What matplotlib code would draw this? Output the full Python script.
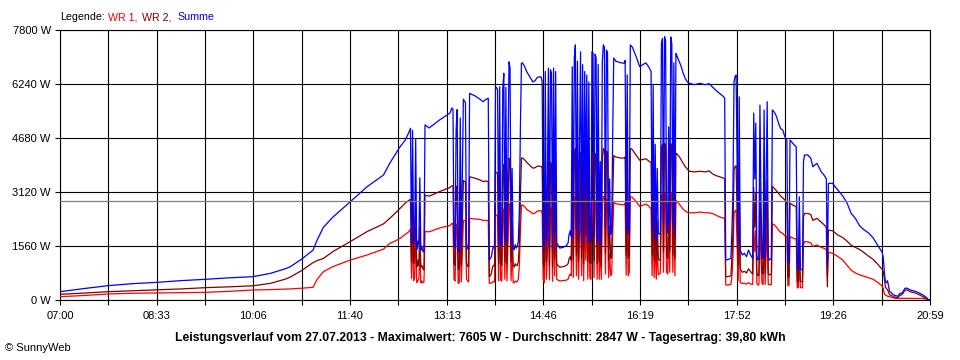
import numpy as np
import matplotlib
matplotlib.use("Agg")
import matplotlib.pyplot as plt

plt.rcParams['font.family'] = ['Liberation Sans', 'DejaVu Sans']

# ---------------- data (minutes after 07:00, power in W) ----------------
minutes = [0, 23, 46, 69, 94, 117, 140, 163, 186, 203, 217, 222, 233, 244, 248, 254, 263, 280, 296, 312,
           318, 323, 328, 333, 336, 338, 339, 340, 341, 342, 343, 344, 345, 346, 347, 348, 349, 350, 351, 352,
           356, 366, 376, 378, 379, 380, 381, 382, 383, 384, 385, 386, 387, 388, 389, 390, 391, 392, 393, 394,
           395, 400, 405, 408, 411, 413, 414, 415, 416, 417, 418, 419, 420, 421, 422, 423, 424, 425, 426, 427,
           428, 429, 430, 431, 432, 433, 434, 435, 436, 437, 438, 439, 440, 441, 442, 443, 444, 445, 446, 447,
           448, 450, 452, 454, 456, 458, 460, 462, 464, 465, 466, 467, 468, 469, 470, 471, 472, 473, 474, 475,
           476, 477, 478, 479, 480, 482, 485, 488, 490, 491, 492, 493, 494, 495, 496, 497, 498, 499, 500, 501,
           502, 503, 504, 505, 506, 507, 508, 509, 510, 511, 512, 513, 514, 515, 516, 517, 518, 519, 520, 521,
           522, 523, 524, 525, 526, 527, 528, 529, 530, 531, 532, 533, 534, 536, 538, 541, 544, 545, 546, 547,
           548, 549, 550, 552, 554, 556, 559, 562, 565, 568, 570, 571, 572, 573, 574, 575, 576, 577, 578, 579,
           580, 581, 582, 583, 584, 585, 586, 587, 588, 589, 590, 591, 592, 593, 594, 595, 597, 599, 601, 603,
           605, 607, 612, 617, 622, 626, 629, 632, 636, 639, 641, 642, 643, 645, 647, 648, 649, 650, 651, 652,
           653, 654, 655, 656, 658, 660, 662, 664, 666, 668, 669, 670, 671, 672, 673, 674, 675, 676, 677, 678,
           679, 680, 681, 682, 683, 684, 686, 687, 689, 691, 693, 695, 697, 699, 701, 702, 703, 704, 706, 708,
           710, 711, 712, 713, 714, 716, 717, 718, 721, 724, 726, 730, 734, 737, 739, 740, 741, 745, 750, 755,
           759, 763, 767, 771, 774, 780, 784, 789, 793, 794, 795, 796, 797, 798, 800, 802, 805, 808, 810, 812,
           815, 817, 820, 826, 832, 836, 838]

summe = [240, 330, 413, 470, 511, 560, 597, 640, 674, 770, 900, 960, 1180, 1440, 1733, 2100, 2390, 2840, 3270, 3611,
         3950, 4190, 4430, 4620, 4815, 4960, 1650, 4900, 1600, 1900, 4650, 1450, 1700, 1600, 3530, 1450, 1550, 1400, 1390, 5060,
         4970, 5200, 5400, 5550, 5500, 1650, 1500, 4910, 5500, 1400, 1390, 5260, 1550, 3500, 5800, 5750, 5700, 1650, 1500, 1450,
         5970, 5900, 5800, 5730, 5800, 5830, 1155, 1200, 1250, 1440, 1540, 1500, 6160, 6130, 6080, 1600, 6160, 1650, 1550, 6100,
         6550, 1700, 6150, 1600, 4000, 6880, 6700, 1650, 3800, 1500, 1450, 1600, 1500, 1550, 1700, 2600, 5000, 6840, 6850, 6800,
         6750, 6600, 6500, 6400, 6300, 6330, 6420, 6450, 6440, 6300, 1650, 1440, 6600, 1700, 3300, 6700, 1600, 6650, 6550, 1500,
         6700, 1900, 6600, 1650, 1600, 1500, 1520, 1560, 1650, 1900, 2000, 1850, 6740, 1800, 7000, 7370, 2000, 6900, 1700, 4500,
         7170, 1900, 6800, 1600, 6600, 3000, 6500, 1700, 6300, 1750, 1650, 7170, 7150, 1800, 7100, 7000, 1650, 6800, 1700, 4000,
         1600, 6900, 7370, 7300, 2100, 7220, 7150, 1800, 3500, 1900, 2000, 4800, 6990, 6900, 6880, 6850, 6840, 6920, 2020, 6500,
         1900, 2100, 7370, 7300, 7150, 7000, 6740, 6800, 6850, 6720, 6600, 2000, 6200, 1800, 4500, 1700, 3800, 1930, 1900, 1930,
         7400, 7550, 2200, 7605, 7500, 2100, 1950, 5000, 2200, 7600, 7400, 2100, 6850, 1900, 7120, 7050, 6900, 6750, 6550, 6400,
         6300, 6260, 6220, 6260, 6220, 6250, 6160, 6070, 5970, 5900, 5830, 1160, 1155, 1180, 1200, 2000, 3200, 6300, 6450, 6500,
         4000, 1600, 5870, 1440, 1300, 1350, 1250, 1440, 1300, 1200, 5400, 3500, 5110, 1300, 1155, 1200, 5630, 3000, 1300, 1200,
         5490, 1250, 3500, 5730, 1250, 1155, 1200, 5490, 5420, 5300, 5100, 4950, 4910, 4720, 4620, 1060, 1100, 4620, 4550, 4480,
         4430, 870, 900, 2980, 900, 870, 4000, 4190, 4190, 4100, 3850, 3950, 3710, 3600, 3500, 1000, 3370, 3370, 3180, 3000,
         2800, 2500, 2360, 2150, 2060, 1930, 1800, 1560, 1370, 1200, 800, 520, 500, 560, 250, 200, 130, 110, 190, 200,
         340, 340, 290, 240, 150, 60, 0]

wr2 = [164, 200, 240, 265, 289, 320, 356, 380, 410, 481, 600, 660, 850, 1080, 1140, 1200, 1396, 1690, 1974, 2200,
       2359, 2500, 2648, 2800, 2870, 2910, 1100, 2880, 1050, 1250, 2750, 950, 1150, 1000, 2150, 950, 1000, 900, 870, 3030,
       3000, 3130, 3250, 3300, 3300, 1050, 1000, 2950, 3300, 900, 880, 3150, 1000, 2150, 3450, 3430, 3400, 1100, 980, 950,
       3560, 3520, 3470, 3420, 3440, 3420, 680, 700, 760, 940, 1000, 980, 3700, 3680, 3650, 1050, 3700, 1080, 1000, 3650,
       3920, 1100, 3700, 1050, 2400, 4100, 4000, 1100, 2300, 1000, 950, 1050, 1000, 1000, 1100, 1600, 3000, 4100, 4100, 4080,
       4050, 3980, 3920, 3860, 3810, 3820, 3860, 3870, 3860, 3800, 1050, 950, 3950, 1100, 2000, 4000, 1000, 3980, 3920, 950,
       4000, 1200, 3950, 1050, 1000, 950, 960, 990, 1050, 1200, 1250, 1150, 4020, 1150, 4180, 4380, 1300, 4120, 1100, 2700,
       4270, 1200, 4060, 1050, 3950, 1850, 3900, 1100, 3800, 1100, 1050, 4270, 4260, 1150, 4230, 4170, 1050, 4060, 1100, 2400,
       1000, 4120, 4380, 4340, 1350, 4300, 4260, 1150, 2150, 1200, 1250, 2900, 4170, 4130, 4120, 4100, 4100, 4130, 1300, 3900,
       1200, 1300, 4380, 4340, 4250, 4170, 4040, 4060, 4080, 4010, 3970, 1300, 3700, 1150, 2700, 1100, 2300, 1200, 1150, 1150,
       4400, 4500, 1400, 4530, 4460, 1300, 1200, 3000, 1400, 4520, 4400, 1300, 4100, 1200, 4240, 4220, 4150, 4050, 3950, 3850,
       3780, 3720, 3700, 3720, 3700, 3730, 3650, 3600, 3560, 3530, 3510, 680, 670, 680, 700, 1250, 1950, 3780, 3850, 3880,
       2400, 1000, 3500, 900, 800, 830, 780, 900, 820, 750, 3250, 2100, 3100, 800, 700, 720, 3380, 1800, 800, 750,
       3300, 780, 2100, 3470, 780, 720, 750, 3280, 3220, 3150, 3080, 3000, 2950, 2890, 2790, 650, 680, 2790, 2760, 2720,
       2700, 520, 540, 1800, 540, 520, 2400, 2500, 2500, 2470, 2300, 2360, 2250, 2170, 2100, 380, 2020, 2000, 1880, 1800,
       1700, 1580, 1520, 1460, 1400, 1260, 1180, 1020, 880, 820, 620, 380, 330, 300, 150, 130, 80, 70, 140, 150,
       290, 290, 240, 190, 100, 30, 0]

wr1 = [96, 130, 173, 195, 205, 215, 221, 250, 289, 300, 315, 320, 340, 366, 600, 818, 963, 1155, 1300, 1470,
       1637, 1700, 1782, 1900, 1960, 2050, 620, 2020, 560, 650, 1900, 500, 550, 600, 1380, 500, 550, 500, 520, 1980,
       1970, 2080, 2150, 2215, 2200, 600, 550, 1960, 2200, 480, 500, 2100, 520, 1350, 2300, 2300, 2280, 600, 560, 520,
       2360, 2340, 2330, 2300, 2300, 2290, 480, 490, 490, 500, 540, 520, 2460, 2450, 2430, 550, 2460, 570, 550, 2450,
       2630, 600, 2450, 550, 1600, 2780, 2700, 560, 1500, 500, 500, 550, 520, 530, 600, 1000, 2000, 2740, 2750, 2720,
       2700, 2620, 2580, 2540, 2490, 2510, 2560, 2580, 2580, 2500, 600, 500, 2650, 600, 1300, 2700, 580, 2680, 2630, 540,
       2700, 700, 2650, 600, 580, 550, 560, 570, 600, 700, 750, 700, 2720, 650, 2820, 2990, 700, 2780, 600, 1800,
       2900, 700, 2740, 560, 2650, 1150, 2600, 600, 2500, 650, 600, 2900, 2890, 650, 2870, 2830, 600, 2740, 600, 1600,
       600, 2780, 2990, 2960, 750, 2920, 2890, 650, 1350, 700, 750, 1900, 2820, 2780, 2770, 2760, 2750, 2790, 720, 2600,
       700, 800, 2990, 2960, 2900, 2830, 2700, 2740, 2770, 2710, 2630, 700, 2480, 650, 1800, 600, 1500, 730, 750, 780,
       3000, 3050, 800, 3075, 3040, 800, 750, 2000, 800, 3080, 3000, 800, 2750, 700, 2880, 2840, 2780, 2700, 2620, 2570,
       2530, 2520, 2520, 2540, 2520, 2520, 2500, 2460, 2400, 2370, 2360, 440, 430, 440, 450, 700, 1250, 2500, 2570, 2600,
       1600, 550, 2350, 500, 480, 480, 460, 500, 460, 450, 2150, 1400, 2000, 480, 430, 450, 2250, 1200, 480, 450,
       2190, 450, 1400, 2260, 450, 440, 450, 2200, 2170, 2100, 2020, 1950, 1930, 1850, 1830, 410, 420, 1830, 1800, 1780,
       1760, 350, 360, 1180, 360, 350, 1600, 1685, 1680, 1650, 1550, 1590, 1520, 1493, 1450, 650, 1380, 1350, 1260, 1150,
       1000, 860, 780, 730, 700, 640, 600, 500, 400, 330, 170, 140, 130, 110, 96, 80, 50, 48, 48, 48,
       48, 48, 48, 48, 45, 20, 0]

x_labels = ["07:00", "08:33", "10:06", "11:40", "13:13", "14:46", "16:19", "17:52", "19:26", "20:59"]
y_ticks = [0, 1560, 3120, 4680, 6240, 7800]
average_w = 2847
max_w = 7605
yield_kwh = "39,80"
date_str = "27.07.2013"

RED = "#FF0000"
DARKRED = "#800000"
BLUE = "#0000FF"

# ---------------- figure ----------------
W, H = 960, 360
fig = plt.figure(figsize=(W / 100, H / 100), dpi=100)
fig.patch.set_facecolor("white")
ax = fig.add_axes([60 / W, 60 / H, 870 / W, 270 / H])

ax.set_xlim(0, 839)
ax.set_ylim(0, 7800)

major = np.linspace(0, 839, 19)
labels = []
for i in range(19):
    labels.append(x_labels[i // 2] if i % 2 == 0 else "")
ax.set_xticks(major)
ax.set_xticklabels(labels)
ax.set_yticks(y_ticks)
ax.set_yticklabels([f"{v} W" for v in y_ticks])

ax.set_axisbelow(True)
ax.grid(True, color="black", linewidth=0.8)
for s in ax.spines.values():
    s.set_color("black")
    s.set_linewidth(0.8)
ax.tick_params(axis="both", direction="out", length=3.6, width=0.8, colors="black", labelsize=8)
ax.tick_params(axis="x", pad=4.5)
ax.tick_params(axis="y", pad=3.0)

t = np.array(minutes)
ax.plot(t, wr1, color=RED, linewidth=0.9, zorder=3)
ax.plot(t, wr2, color=DARKRED, linewidth=0.9, zorder=3)
ax.plot(t, summe, color=BLUE, linewidth=0.9, zorder=4)
ax.axhline(average_w, color="#808080", linewidth=0.9, zorder=5)

# legend line at top
yl = 1 - 17 / H
fig.text(60 / W, yl, "Legende:", color="black", fontsize=7.7, va="center", ha="left")
fig.text(108 / W, yl, "WR 1,", color=RED, fontsize=7.7, va="center", ha="left")
fig.text(142 / W, yl, "WR 2,", color=DARKRED, fontsize=7.7, va="center", ha="left")
fig.text(177 / W, yl, "Summe", color=BLUE, fontsize=7.7, va="center", ha="left")

title = (f"Leistungsverlauf vom {date_str} - Maximalwert: {max_w} W - "
         f"Durchschnitt: {average_w} W - Tagesertrag: {yield_kwh} kWh")
fig.text(480 / W, 1 - 337.5 / H, title, fontsize=8.8, fontweight="bold", ha="center", va="center")
fig.text(5 / W, 1 - 348 / H, "\u00a9 SunnyWeb", fontsize=8, ha="left", va="center")

fig.savefig("out.png", dpi=100, facecolor="white")
